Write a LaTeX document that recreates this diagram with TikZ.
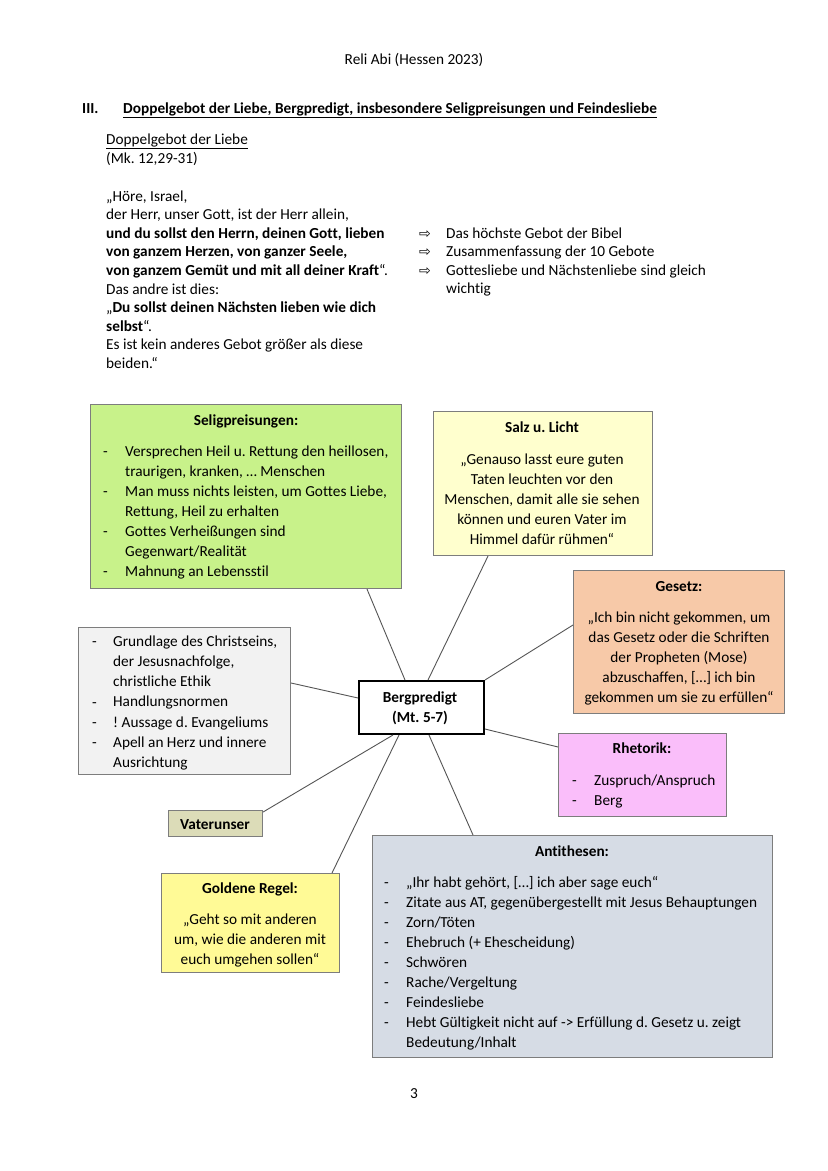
\documentclass[tikz,border=0pt]{standalone}
\usepackage{fontspec}
\setmainfont[Ligatures={NoCommon}]{Carlito}
\newfontfamily\symf{DejaVu Sans}
\frenchspacing
\definecolor{selgreen}{RGB}{200,242,138}
\definecolor{salzyellow}{RGB}{255,255,206}
\definecolor{gesetzorange}{RGB}{247,201,168}
\definecolor{graybox}{RGB}{242,242,242}
\definecolor{rhetpink}{RGB}{250,190,250}
\definecolor{vaterolive}{RGB}{220,220,184}
\definecolor{goldyellow}{RGB}{255,250,150}
\definecolor{antiblue}{RGB}{214,220,229}
\definecolor{boxgray}{RGB}{125,125,125}
\definecolor{linegray}{RGB}{85,85,85}
\newcommand\placelines[6]{%
  \foreach \l [count=\i] in {#6} {\node[#2] (#1\i) at (#3, {#4+(\i-1)*#5}) {\l};}%
}
\begin{document}
\begin{tikzpicture}[x=1pt,y=-1pt,
  font=\fontsize{15.3pt}{18.6pt}\selectfont,
  box/.style={draw=boxgray, line width=1.1pt, anchor=north west, inner sep=0pt, rectangle},
  conn/.style={draw=linegray, line width=0.9pt},
  tl/.style={anchor=base west, inner sep=0pt},
  tc/.style={anchor=base, inner sep=0pt}]
\path[use as bounding box, fill=white] (0,0) rectangle (828,1171);

% header
\node[tc] (head) at (414,64) {Reli Abi (Hessen 2023)};
\node[tl] (roman) at (82,113) {\textbf{III.}};
\node[tl] (title) at (123,113) {\textbf{\underline{Doppelgebot der Liebe, Bergpredigt, insbesondere Seligpreisungen und Feindesliebe}}};
\node[tl] (sub1) at (106,144) {\underline{Doppelgebot der Liebe}};
\node[tl] (sub2) at (106,163) {(Mk. 12,29-31)};

\placelines{q}{tl}{106}{201}{18.6}{{„Höre, Israel,},
  {der Herr, unser Gott, ist der Herr allein,},
  {\textbf{und du sollst den Herrn, deinen Gott, lieben}},
  {\textbf{von ganzem Herzen, von ganzer Seele,}},
  {\textbf{von ganzem Gemüt und mit all deiner Kraft}“.},
  {Das andre ist dies:},
  {„\textbf{Du sollst deinen Nächsten lieben wie dich}},
  {\textbf{selbst}“.},
  {Es ist kein anderes Gebot größer als diese},
  {beiden.“}}

\foreach \yy [count=\i] in {238,256.6,275.2} {\node[tl] (arr\i) at (419,\yy) {\fontsize{14pt}{14pt}\symf ⇨};}
\placelines{a}{tl}{446}{238}{18.6}{{Das höchste Gebot der Bibel},
  {Zusammenfassung der 10 Gebote},
  {Gottesliebe und Nächstenliebe sind gleich},
  {wichtig}}

% boxes
\node[box, fill=selgreen, minimum width=311pt, minimum height=184pt] (selig) at (90,404) {};
\node[box, fill=salzyellow, minimum width=219pt, minimum height=144pt] (salz) at (433,411) {};
\node[box, fill=gesetzorange, minimum width=211pt, minimum height=143pt] (gesetz) at (573,570) {};
\node[box, fill=graybox, minimum width=212pt, minimum height=147pt] (grund) at (78,627) {};
\node[draw=black, line width=2pt, anchor=north west, inner sep=0pt, fill=white, minimum width=125pt, minimum height=53pt] (berg) at (358,680) {};
\node[box, fill=rhetpink, minimum width=168pt, minimum height=83pt] (rhet) at (558,733) {};
\node[box, fill=vaterolive, minimum width=94pt, minimum height=26pt] (vater) at (168,810) {};
\node[box, fill=goldyellow, minimum width=178pt, minimum height=99pt] (gold) at (161,873) {};
\node[box, fill=antiblue, minimum width=400pt, minimum height=222pt] (anti) at (372,835) {};

% connectors
\draw[conn] (367,0 |- selig.south) -- (405,0 |- berg.north);
\draw[conn] (488,0 |- salz.south) -- (428,0 |- berg.north);
\draw[conn] (gesetz.west |- 0,625) -- (berg.east |- 0,680);
\draw[conn] (grund.east |- 0,683) -- (berg.west |- 0,698);
\draw[conn] (rhet.west |- 0,747) -- (berg.east |- 0,729);
\draw[conn] (vater.east |- 0,812) -- (393,0 |- berg.south);
\draw[conn] (332,0 |- gold.north) -- (399,0 |- berg.south);
\draw[conn] (473,0 |- anti.north) -- (429,0 |- berg.south);

% Seligpreisungen
\node[tc] (selt) at (246,425) {\textbf{Seligpreisungen:}};
\foreach \yy [count=\i] in {456,496,536,576} {\node[tl] (seld\i) at (103,\yy) {-};}
\placelines{sel}{tl}{125}{456}{20}{{Versprechen Heil u. Rettung den heillosen,},
  {traurigen, kranken, … Menschen},
  {Man muss nichts leisten, um Gottes Liebe,},
  {Rettung, Heil zu erhalten},
  {Gottes Verheißungen sind},
  {Gegenwart/Realität},
  {Mahnung an Lebensstil}}

% Salz u. Licht
\node[tc] (salzt) at (542,432) {\textbf{Salz u. Licht}};
\placelines{sz}{tc}{542}{464}{20}{{„Genauso lasst eure guten},
  {Taten leuchten vor den},
  {Menschen, damit alle sie sehen},
  {können und euren Vater im},
  {Himmel dafür rühmen“}}

% Gesetz
\node[tc] (gest) at (679,591) {\textbf{Gesetz:}};
\placelines{gz}{tc}{679}{622}{20}{{„Ich bin nicht gekommen, um},
  {das Gesetz oder die Schriften},
  {der Propheten (Mose)},
  {abzuschaffen, […] ich bin},
  {gekommen um sie zu erfüllen“}}

% Grundlage
\foreach \yy [count=\i] in {646,707,727,747} {\node[tl] (grd\i) at (92,\yy) {-};}
\placelines{gr}{tl}{113}{646}{20.3}{{Grundlage des Christseins,},
  {der Jesusnachfolge,},
  {christliche Ethik},
  {Handlungsnormen},
  {! Aussage d. Evangeliums},
  {Apell an Herz und innere},
  {Ausrichtung}}

% Bergpredigt
\node[tc] (bg1) at (420,702) {\textbf{Bergpredigt}};
\node[tc] (bg2) at (420,722) {\textbf{(Mt. 5-7)}};

% Rhetorik
\node[tc] (rht) at (642,753) {\textbf{Rhetorik:}};
\foreach \yy [count=\i] in {785,805} {\node[tl] (rhd\i) at (572,\yy) {-};}
\placelines{rh}{tl}{594}{785}{20}{{Zuspruch/Anspruch},{Berg}}

% Vaterunser
\node[tc] (vt) at (215,829) {\textbf{Vaterunser}};

% Goldene Regel
\node[tc] (goldt) at (250,893) {\textbf{Goldene Regel:}};
\placelines{gd}{tc}{250}{924}{20}{{„Geht so mit anderen},
  {um, wie die anderen mit},
  {euch umgehen sollen“}}

% Antithesen
\node[tc] (antit) at (572,856) {\textbf{Antithesen:}};
\foreach \yy [count=\i] in {887,907,927,947,967,987,1007,1027} {\node[tl] (and\i) at (384,\yy) {-};}
\placelines{an}{tl}{406}{887}{20}{{„Ihr habt gehört, […] ich aber sage euch“},
  {Zitate aus AT, gegenübergestellt mit Jesus Behauptungen},
  {Zorn/Töten},
  {Ehebruch (+ Ehescheidung)},
  {Schwören},
  {Rache/Vergeltung},
  {Feindesliebe},
  {Hebt Gültigkeit nicht auf -> Erfüllung d. Gesetz u. zeigt},
  {Bedeutung/Inhalt}}

% page number
\node[tc] (pagenum) at (414,1098) {3};
\end{tikzpicture}
\end{document}
